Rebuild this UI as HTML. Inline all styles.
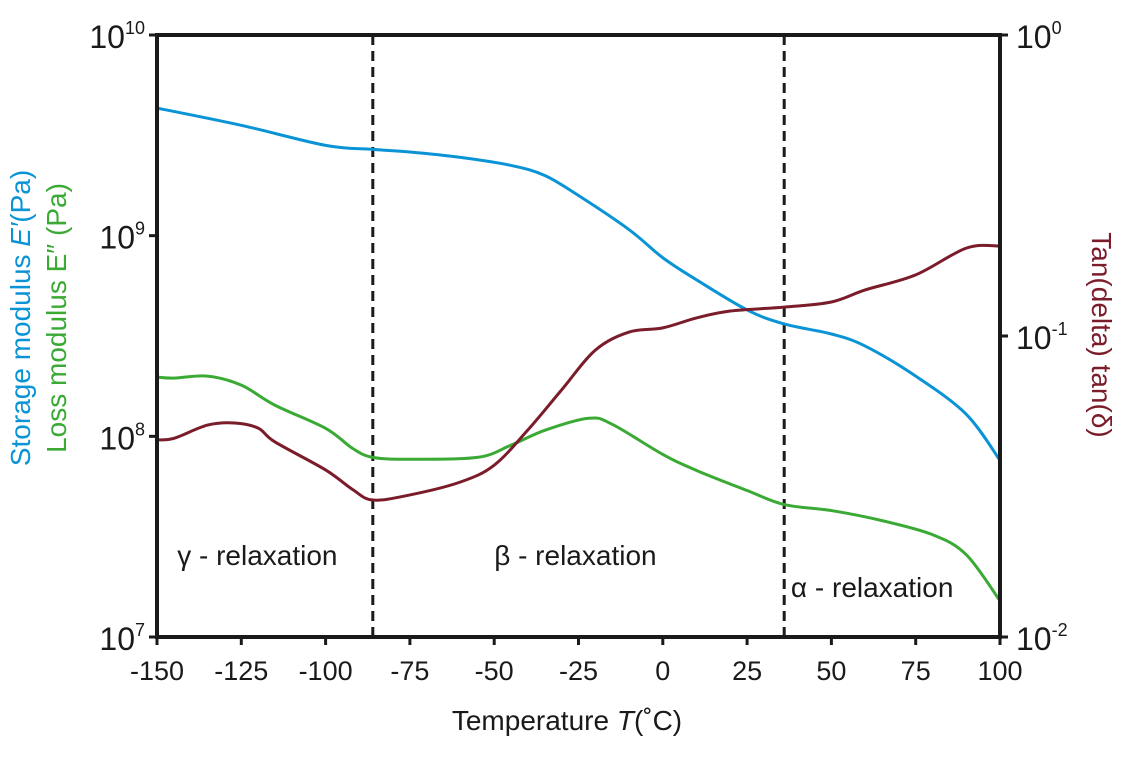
<!DOCTYPE html>
<html><head><meta charset="utf-8"><style>
body{margin:0;background:#fff}
svg{display:block;font-family:"Liberation Sans",sans-serif}
</style></head><body>
<svg id="c" width="1141" height="765"></svg>
<script>
const tempsE1=[-150,-125,-100,-86,-75,-60,-45,-35,-25,-10,0,10,25,36,50,60,75,90,100];
const logStorage=[9.636,9.55,9.45,9.43,9.417,9.39,9.35,9.30,9.20,9.03,8.89,8.78,8.63,8.56,8.51,8.45,8.30,8.11,7.88];
const tempsE2=[-150,-145,-135,-125,-115,-100,-92,-86,-75,-55,-45,-35,-22,-15,0,10,25,36,50,65,80,90,100];
const logLoss=[8.295,8.29,8.30,8.255,8.155,8.04,7.94,7.895,7.886,7.895,7.956,8.03,8.09,8.06,7.91,7.83,7.73,7.66,7.63,7.58,7.51,7.41,7.18];
const tempsTan=[-150,-145,-135,-127,-120,-115,-100,-92,-86,-75,-60,-50,-40,-30,-20,-10,0,10,20,36,50,60,75,90,100];
const logTan=[-1.345,-1.34,-1.296,-1.289,-1.306,-1.352,-1.445,-1.51,-1.545,-1.528,-1.485,-1.429,-1.312,-1.179,-1.047,-0.987,-0.973,-0.94,-0.917,-0.904,-0.887,-0.847,-0.797,-0.708,-0.701];
const xTicks=[-150,-125,-100,-75,-50,-25,0,25,50,75,100];
const leftExp=[10,9,8,7];
const rightExp=[0,-1,-2];
const dividers=[-86,36];
const regions=[["γ - relaxation",-144,555],["β - relaxation",-50,555],["α - relaxation",38,587]];

const L=157,R=1000,T=35,B=637;
const sx=v=>L+(v+150)/250*(R-L);
const syL=v=>T+(10-v)/3*(B-T);
const syR=v=>T+(0-v)/2*(B-T);
const svg=document.getElementById('c');
const NS='http://www.w3.org/2000/svg';
function mk(tag,at,parent){const e=document.createElementNS(NS,tag);for(const k in at)e.setAttribute(k,at[k]);(parent||svg).appendChild(e);return e;}
function path(xs,ys,fx,fy){const p=xs.map((x,i)=>[fx(x),fy(ys[i])]);let d=`M${p[0][0]},${p[0][1]}`;
for(let i=0;i<p.length-1;i++){const p0=p[Math.max(i-1,0)],p1=p[i],p2=p[i+1],p3=p[Math.min(i+2,p.length-1)];
d+=` C${p1[0]+(p2[0]-p0[0])/6},${p1[1]+(p2[1]-p0[1])/6} ${p2[0]-(p3[0]-p1[0])/6},${p2[1]-(p3[1]-p1[1])/6} ${p2[0]},${p2[1]}`;}return d;}

dividers.forEach(v=>{const e=mk('line',{x1:sx(v),x2:sx(v),y1:T,y2:B,stroke:'#1a1a1a','stroke-width':3,'stroke-dasharray':'10,6'});

});

let e=mk('path',{d:path(tempsE1,logStorage,sx,syL),fill:'none',stroke:'#0a94d6','stroke-width':3});

e=mk('path',{d:path(tempsE2,logLoss,sx,syL),fill:'none',stroke:'#3aaa35','stroke-width':3});

e=mk('path',{d:path(tempsTan,logTan,sx,syR),fill:'none',stroke:'#7b1c2a','stroke-width':3});


e=mk('rect',{x:L,y:T,width:R-L,height:B-T,fill:'none',stroke:'#1a1a1a','stroke-width':4});


xTicks.forEach(v=>{mk('line',{x1:sx(v),x2:sx(v),y1:B,y2:B+8,stroke:'#1a1a1a','stroke-width':3});
const t=mk('text',{x:sx(v),y:B+43,'font-size':27,'text-anchor':'middle',fill:'#1a1a1a'});t.textContent=v;
});
leftExp.forEach(v=>{mk('line',{x1:L-8,x2:L,y1:syL(v),y2:syL(v),stroke:'#1a1a1a','stroke-width':3});
const t=mk('text',{x:L-12,y:syL(v)+13,'font-size':32,'text-anchor':'end',fill:'#1a1a1a'});
t.innerHTML=`10<tspan dy="-14" font-size="18">${v}</tspan>`;
});
rightExp.forEach(v=>{mk('line',{x1:R,x2:R+8,y1:syR(v),y2:syR(v),stroke:'#1a1a1a','stroke-width':3});
const t=mk('text',{x:R+16,y:syR(v)+13,'font-size':32,fill:'#1a1a1a'});
t.innerHTML=`10<tspan dy="-14" font-size="18">${v}</tspan>`;
});
regions.forEach(r=>{const t=mk('text',{x:sx(r[1]),y:r[2]+10,'font-size':28,fill:'#1a1a1a'});t.textContent=r[0];
});

let t=mk('text',{x:567,y:730,'font-size':28,'text-anchor':'middle',fill:'#1a1a1a'});
t.innerHTML='Temperature <tspan font-style="italic">T</tspan>(˚C)';

t=mk('text',{x:0,y:0,'font-size':28,'text-anchor':'middle',fill:'#0a94d6',transform:'translate(30,318) rotate(-90)'});
t.innerHTML='Storage modulus <tspan font-style="italic">E′</tspan>(Pa)';

t=mk('text',{x:0,y:0,'font-size':28,'text-anchor':'middle',fill:'#3aaa35',transform:'translate(66,318) rotate(-90)'});
t.textContent='Loss modulus E″ (Pa)';

t=mk('text',{x:0,y:0,'font-size':28,'text-anchor':'middle',fill:'#7b1c2a',transform:'translate(1092,335) rotate(90)'});
t.textContent='Tan(delta) tan(δ)';

</script>
</body></html>
